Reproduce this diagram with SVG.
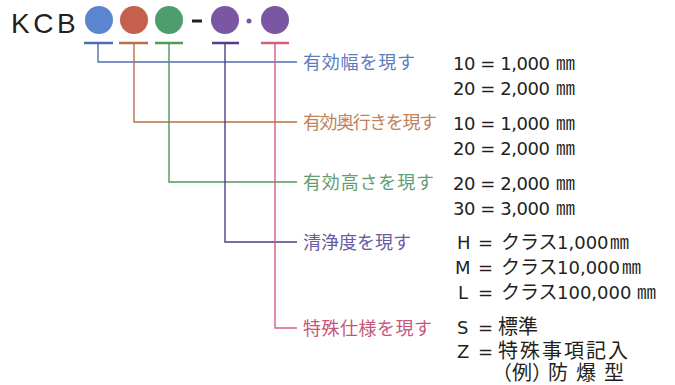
<svg xmlns="http://www.w3.org/2000/svg" width="675" height="385" viewBox="0 0 675 385">
<style>
.lbl{font-family:"Noto Sans CJK JP","Noto Sans CJK SC",sans-serif;font-size:18px}
.val{font-family:"DejaVu Sans","Noto Sans CJK JP",sans-serif;font-size:18px;fill:#231f20}
.jp{font-family:"Noto Sans CJK JP","Noto Sans CJK SC",sans-serif;fill:#231f20}
.mm{font-family:"Noto Sans CJK JP",sans-serif;font-size:19px;fill:#231f20}
.bar{stroke-width:2.5;fill:none}
.ln{stroke-width:1.4;fill:none}
</style>
<rect width="675" height="385" fill="#ffffff"/>
<g id="code">
<text x="11" y="33" font-family="Liberation Sans, sans-serif" font-size="28" letter-spacing="3.5" fill="#231f20">KCB</text>
<circle cx="99" cy="20" r="14" fill="#5b86cf"/>
<circle cx="134" cy="20" r="14" fill="#c5604e"/>
<circle cx="169" cy="20" r="14" fill="#4f9d6d"/>
<line x1="192" y1="21" x2="202" y2="21" stroke="#231f20" stroke-width="3"/>
<circle cx="225" cy="20" r="14" fill="#7b56a3"/>
<circle cx="249" cy="21" r="2.5" fill="#7b56a3"/>
<circle cx="275" cy="20" r="14" fill="#7b56a3"/>
</g>
<g id="connectors">
<line class="bar" x1="84" y1="43" x2="113" y2="43" stroke="#4f6db2"/>
<line class="bar" x1="119" y1="43" x2="148" y2="43" stroke="#b8704a"/>
<line class="bar" x1="155" y1="43" x2="183" y2="43" stroke="#4e9a57"/>
<line class="bar" x1="212" y1="43" x2="239" y2="43" stroke="#4e3f86"/>
<line class="bar" x1="261" y1="43" x2="289" y2="43" stroke="#d4607e"/>
<polyline class="ln" points="98,43 98,62 297,62" stroke="#4f6db2"/>
<polyline class="ln" points="134,43 134,122 297,122" stroke="#b8704a"/>
<polyline class="ln" points="169,43 169,182 297,182" stroke="#4e9a57"/>
<polyline class="ln" points="225,43 225,242 297,242" stroke="#4e3f86"/>
<polyline class="ln" points="275,43 275,328 297,328" stroke="#d4607e"/>
</g>
<g id="width">
<text class="lbl" x="303" y="69" fill="#5b7cbf" textLength="112">有効幅を現す</text>
<text class="val" x="453" y="70" textLength="97">10 = 1,000</text><text class="mm" x="556" y="70">㎜</text>
<text class="val" x="453" y="95" textLength="97">20 = 2,000</text><text class="mm" x="556" y="95">㎜</text>
</g>
<g id="depth">
<text class="lbl" x="303" y="129" fill="#c0825a" textLength="134">有効奥行きを現す</text>
<text class="val" x="453" y="130" textLength="97">10 = 1,000</text><text class="mm" x="556" y="130">㎜</text>
<text class="val" x="453" y="155" textLength="97">20 = 2,000</text><text class="mm" x="556" y="155">㎜</text>
</g>
<g id="height">
<text class="lbl" x="303" y="189" fill="#5f9e72" textLength="131">有効高さを現す</text>
<text class="val" x="453" y="190" textLength="97">20 = 2,000</text><text class="mm" x="556" y="190">㎜</text>
<text class="val" x="453" y="215" textLength="97">30 = 3,000</text><text class="mm" x="556" y="215">㎜</text>
</g>
<g id="clean">
<text class="lbl" x="303" y="249" fill="#6a5aa0" textLength="108">清浄度を現す</text>
<text class="val" x="457" y="249">H</text><text class="val" x="478" y="249">=</text>
<text class="jp" x="501" y="249" font-size="19">クラス</text><text class="val" x="557" y="249">1,000</text><text class="mm" x="610" y="249">㎜</text>
<text class="val" x="455" y="274">M</text><text class="val" x="478" y="274">=</text>
<text class="jp" x="501" y="274" font-size="19">クラス</text><text class="val" x="557" y="274">10,000</text><text class="mm" x="622" y="274">㎜</text>
<text class="val" x="458" y="299">L</text><text class="val" x="478" y="299">=</text>
<text class="jp" x="501" y="299" font-size="19">クラス</text><text class="val" x="557" y="299">100,000</text><text class="mm" x="637" y="299">㎜</text>
</g>
<g id="special">
<text class="lbl" x="303" y="335" fill="#c8557a" textLength="129">特殊仕様を現す</text>
<text class="val" x="457" y="334">S</text><text class="val" x="478" y="334">=</text>
<text class="jp" x="498" y="334" font-size="20">標準</text>
<text class="val" x="457" y="358">Z</text><text class="val" x="478" y="358">=</text>
<text class="jp" x="498" y="358" font-size="20" textLength="130">特殊事項記入</text>
<text class="jp" x="492" y="380" font-size="20">（例）<tspan x="548" textLength="76">防爆型</tspan></text>
</g>
</svg>
